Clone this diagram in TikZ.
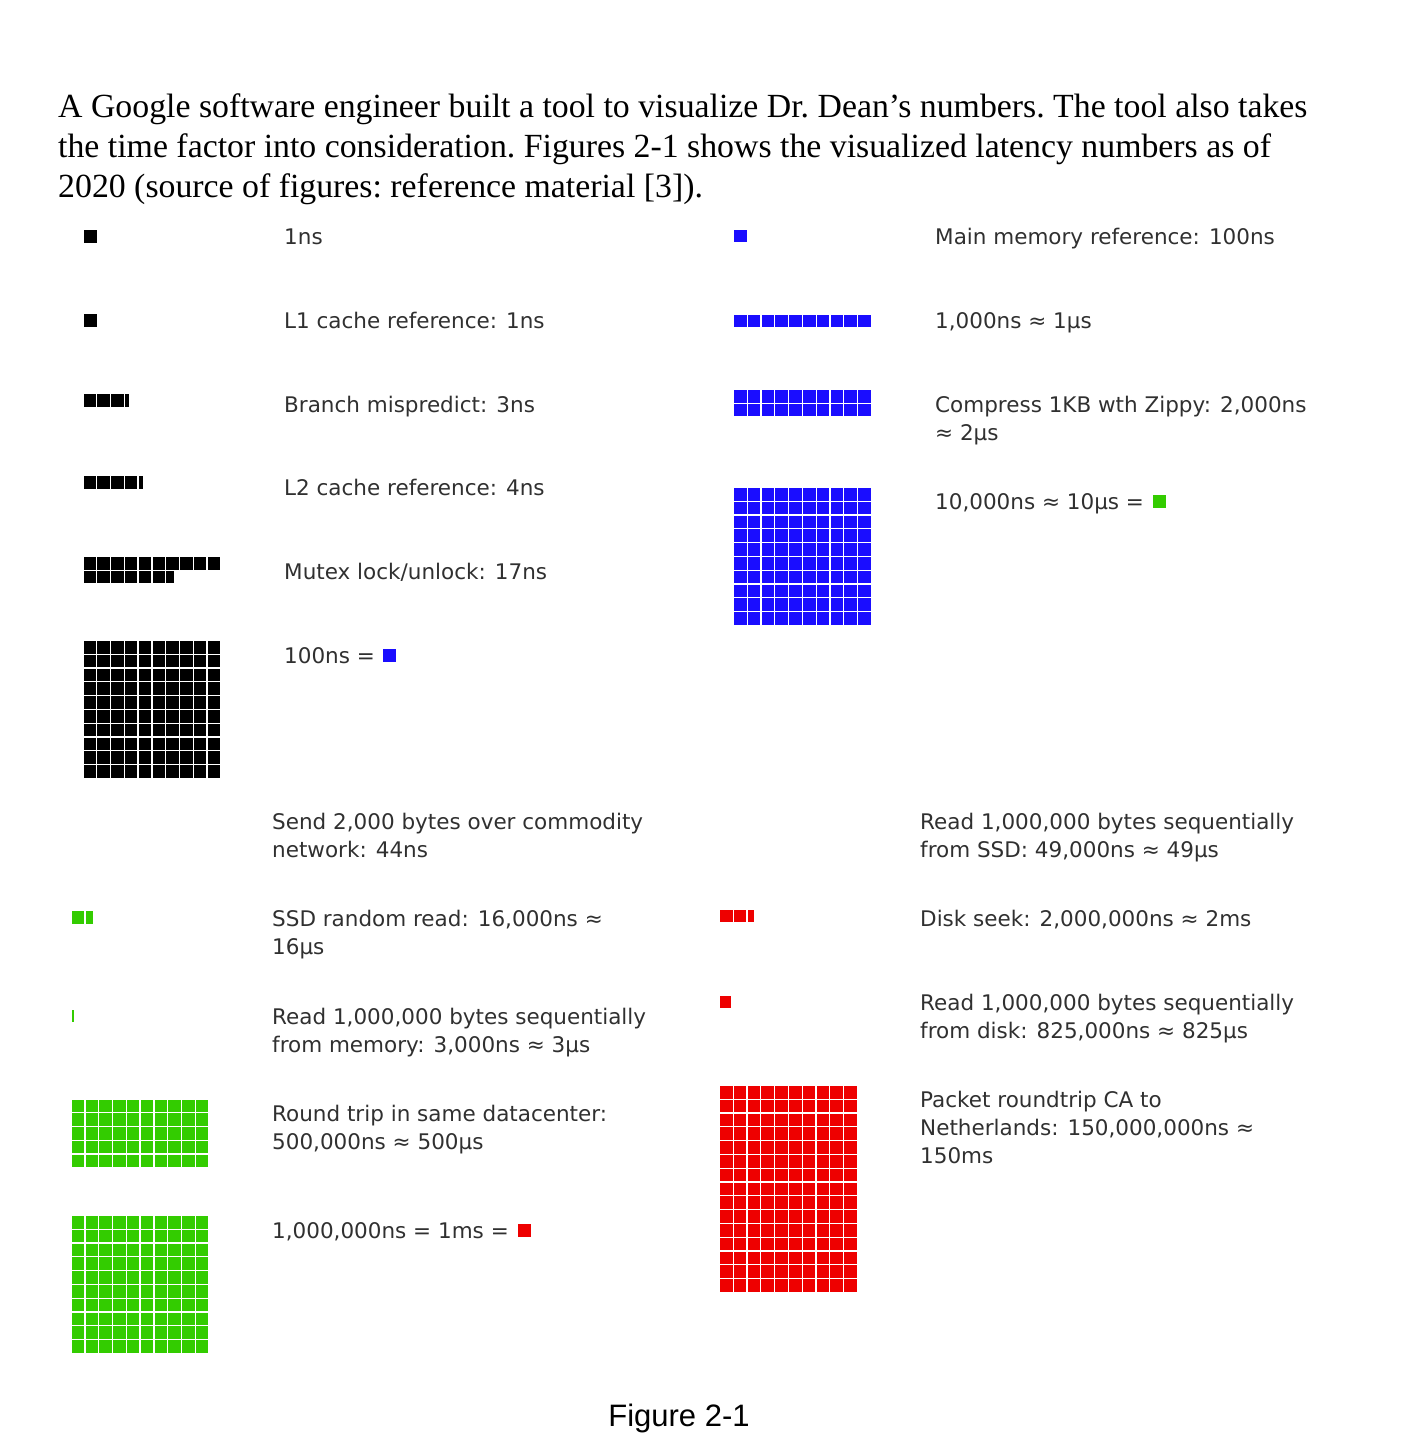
\documentclass[tikz,border=0pt]{standalone}
\usepackage{fontspec}
\setmainfont{DejaVu Sans}
\newfontfamily\bodyserif{Liberation Serif}
\newfontfamily\captionsans{Liberation Sans}
\definecolor{lblgray}{RGB}{48,48,48}
\definecolor{cblack}{RGB}{0,0,0}
\definecolor{cblue}{RGB}{26,13,255}
\definecolor{cgreen}{RGB}{51,204,0}
\definecolor{cred}{RGB}{238,0,0}
\newcommand{\latgrid}[5]{%
  \foreach \ci in {1,...,#3}{\foreach \cj in {1,...,#4}{%
    \fill[#5] ({#1+(\ci-1)*13.8},{#2+(\cj-1)*13.8}) rectangle ++(12.5,12.5);}}}
\newcommand{\latpart}[4]{\fill[#4] (#1,#2) rectangle ++(#3,12.5);}
\tikzset{
  lbl/.style={anchor=base west, inner sep=0pt, text=lblgray, align=left,
    font=\fontsize{21.5}{28}\selectfont},
  para/.style={anchor=base west, inner sep=0pt, text=black,
    font=\bodyserif\frenchspacing\fontsize{33.8}{40}\selectfont},
}
\begin{document}
\begin{tikzpicture}[x=1pt,y=-1pt]
\useasboundingbox (0,0) rectangle (1416,1444);
% paragraph
\node[para] (p1) at (58,117) {A Google software engineer built a tool to visualize Dr. Dean’s numbers. The tool also takes};
\node[para] (p2) at (58,157) {the time factor into consideration. Figures 2-1 shows the visualized latency numbers as of};
\node[para] (p3) at (58,197) {2020 (source of figures: reference material [3]).};
% black column
\latgrid{84}{230}{1}{1}{cblack}
\latgrid{84}{314}{1}{1}{cblack}
\latgrid{83.5}{394}{3}{1}{cblack}\latpart{124.9}{394}{4}{cblack}
\latgrid{83.5}{476}{4}{1}{cblack}\latpart{138.7}{476}{4}{cblack}
\latgrid{83.5}{557}{10}{1}{cblack}
\latgrid{83.5}{570.8}{6}{1}{cblack}\latpart{166.3}{570.8}{7.5}{cblack}
\latgrid{83.5}{641}{10}{10}{cblack}
\node[lbl] (t1) at (284,244) {1ns};
\node[lbl] (t2) at (284,328) {L1 cache reference: 1ns};
\node[lbl] (t3) at (284,412) {Branch mispredict: 3ns};
\node[lbl] (t4) at (284,495) {L2 cache reference: 4ns};
\node[lbl] (t5) at (284,579) {Mutex lock/unlock: 17ns};
\node[lbl] (t6) at (284,663) {100ns =};
\latgrid{383}{649}{1}{1}{cblue}
% blue column
\latgrid{734}{229.5}{1}{1}{cblue}
\latgrid{734}{314.5}{10}{1}{cblue}
\latgrid{734}{390}{10}{2}{cblue}
\latgrid{734}{488}{10}{10}{cblue}
\node[lbl] (u1) at (935,244) {Main memory reference: 100ns};
\node[lbl] (u2) at (935,328) {1,000ns ≈ 1µs};
\node[lbl] (u3) at (935,440) {Compress 1KB wth Zippy: 2,000ns\\≈ 2µs};
\node[lbl] (u4) at (935,509) {10,000ns ≈ 10µs =};
\latgrid{1153}{495}{1}{1}{cgreen}
% green column
\node[lbl] (g0) at (272,857) {Send 2,000 bytes over commodity\\network: 44ns};
\latgrid{71.7}{911}{1}{1}{cgreen}\latpart{85.5}{911}{7}{cgreen}
\node[lbl] (g1) at (272,954) {SSD random read: 16,000ns ≈\\16µs};
\latpart{71.7}{1009.5}{2.6}{cgreen}
\node[lbl] (g2) at (272,1052) {Read 1,000,000 bytes sequentially\\from memory: 3,000ns ≈ 3µs};
\latgrid{71.7}{1099.5}{10}{5}{cgreen}
\node[lbl] (g3) at (272,1149) {Round trip in same datacenter:\\500,000ns ≈ 500µs};
\latgrid{71.7}{1216}{10}{10}{cgreen}
\node[lbl] (g4) at (272,1238) {1,000,000ns = 1ms =};
\latgrid{518}{1224}{1}{1}{cred}
% red column
\node[lbl] (r0) at (920,857) {Read 1,000,000 bytes sequentially\\from SSD: 49,000ns ≈ 49µs};
\latgrid{720}{909.5}{2}{1}{cred}\latpart{747.6}{909.5}{6}{cred}
\node[lbl] (r1) at (920,926) {Disk seek: 2,000,000ns ≈ 2ms};
\latpart{720}{995.5}{10.5}{cred}
\node[lbl] (r2) at (920,1038) {Read 1,000,000 bytes sequentially\\from disk: 825,000ns ≈ 825µs};
\latgrid{720}{1086}{10}{15}{cred}
\node[lbl] (r3) at (920,1163) {Packet roundtrip CA to\\Netherlands: 150,000,000ns ≈\\150ms};
% caption
\node[anchor=base, inner sep=0pt, font=\captionsans\fontsize{31}{36}\selectfont] (cap) at (679,1426) {Figure 2-1};
\end{tikzpicture}
\end{document}
